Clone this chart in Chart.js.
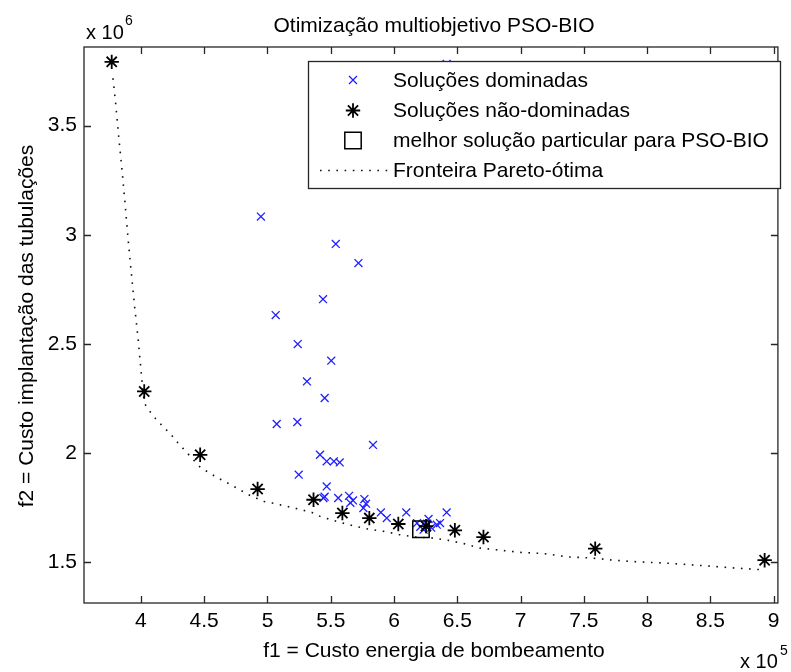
<!DOCTYPE html>
<html>
<head>
<meta charset="utf-8">
<script src="https://cdn.jsdelivr.net/npm/chart.js@4.4.1/dist/chart.umd.min.js"></script>
<style>
  html, body { margin: 0; padding: 0; background: #ffffff; }
  #wrap { width: 791px; height: 672px; }
</style>
</head>
<body>
<div id="wrap"><canvas id="c" width="791" height="672"></canvas></div>
<script>
// f1 = pumping energy cost, f2 = pipe installation cost

// Dominated solutions
const dominatedF1 = [641600, 494800, 554000, 571900, 543900, 506500, 523900, 550400, 531200, 545200,
                     507300, 523600, 583400, 541500, 546800, 552500, 557100, 524700, 546800, 544200,
                     545200, 555900, 564500, 567600, 565500, 576600, 577900, 575800, 589600, 594300,
                     609700, 618200, 620800, 627300, 623400, 629400, 633800, 636400, 641600, 626300];
const dominatedF2 = [3783000, 3083000, 2958000, 2870000, 2705000, 2632000, 2499000, 2423000, 2328000, 2252000,
                     2133000, 2142000, 2037000, 1992000, 1962000, 1962000, 1957000, 1901000, 1847000, 1794000,
                     1800000, 1794000, 1804000, 1783000, 1772000, 1789000, 1768000, 1748000, 1728000, 1702000,
                     1728000, 1679000, 1662000, 1698000, 1649000, 1658000, 1672000, 1679000, 1728000, 1676000];

// Non-dominated solutions
const nonDominatedF1 = [376900, 402600, 446800, 492200, 536400, 559200, 580500, 603400, 625300, 648100, 670700, 759000, 892900];
const nonDominatedF2 = [3792000, 2282000, 1992000, 1835000, 1786000, 1725000, 1702000, 1675000, 1665000, 1646000, 1615000, 1562000, 1509000];

// Best particular solution for PSO-BIO
const bestF1 = [621300];
const bestF2 = [1651000];

// Pareto-optimal front
const paretoF1 = [377900, 380000, 382300, 384900, 387200, 389900, 392400, 395000, 397700, 400000,
                  402600, 406500, 411700, 417900, 424200, 429300, 435500, 447000, 459500, 471900,
                  485000, 497400, 503700, 523400, 535100, 541500, 554600, 567600, 579300, 592200,
                  604400, 616900, 629900, 642900, 655300, 667600, 680600, 699500, 719000, 737700,
                  756700, 775400, 794900, 813900, 832600, 851300, 870200, 889200];
const paretoF2 = [3717000, 3603000, 3457000, 3305000, 3160000, 2977000, 2824000, 2671000, 2527000, 2381000,
                  2229000, 2195000, 2157000, 2119000, 2082000, 2046000, 2007000, 1934000, 1890000, 1852000,
                  1809000, 1778000, 1771000, 1745000, 1728000, 1710000, 1687000, 1667000, 1652000, 1641000,
                  1626000, 1615000, 1611000, 1600000, 1585000, 1565000, 1557000, 1545000, 1539000, 1524000,
                  1519000, 1508000, 1501000, 1496000, 1489000, 1481000, 1473000, 1466000];

// Axis ticks
const xTickValues = [400000, 450000, 500000, 550000, 600000, 650000, 700000, 750000, 800000, 850000, 900000];
const yTickValues = [1500000, 2000000, 2500000, 3000000, 3500000];

const toPoints = (xs, ys) => xs.map((x, i) => ({ x: x, y: ys[i] }));

const FONT = '"Liberation Sans", Arial, Helvetica, sans-serif';
const FRAME = '#262626';
const DOT_DASH = [1.6, 6.6];

const styles = {
  dominated:    { pointStyle: 'crossRot', radius: 5.6, borderWidth: 1.3, color: '#1f1fff' },
  nonDominated: { pointStyle: 'star',     radius: 7.2, borderWidth: 1.8, color: '#000000' },
  best:         { pointStyle: 'rect',     radius: 11.6, borderWidth: 1.5, color: '#000000' }
};

function drawMarker(ctx, st, x, y) {
  ctx.save();
  ctx.strokeStyle = st.color;
  ctx.fillStyle = 'rgba(0,0,0,0)';
  ctx.lineWidth = st.borderWidth;
  if (Chart.helpers && Chart.helpers.drawPoint) {
    Chart.helpers.drawPoint(ctx, { pointStyle: st.pointStyle, radius: st.radius, borderWidth: st.borderWidth, rotation: 0 }, x, y);
  }
  ctx.restore();
}

const framePlugin = {
  id: 'framePlugin',
  afterDraw(chart) {
    const ctx = chart.ctx;
    const a = chart.chartArea;
    const xs = chart.scales.x, ys = chart.scales.y;
    ctx.save();

    // Box and inward ticks on all four sides
    ctx.strokeStyle = FRAME;
    ctx.lineWidth = 1.3;
    ctx.strokeRect(a.left, a.top, a.right - a.left, a.bottom - a.top);
    const tl = 7;
    ctx.beginPath();
    xTickValues.forEach(v => {
      const px = Math.round(xs.getPixelForValue(v)) + 0.5;
      ctx.moveTo(px, a.bottom); ctx.lineTo(px, a.bottom - tl);
      ctx.moveTo(px, a.top);    ctx.lineTo(px, a.top + tl);
    });
    yTickValues.forEach(v => {
      const py = Math.round(ys.getPixelForValue(v)) + 0.5;
      ctx.moveTo(a.left, py);  ctx.lineTo(a.left + tl, py);
      ctx.moveTo(a.right, py); ctx.lineTo(a.right - tl, py);
    });
    ctx.stroke();

    // Titles
    ctx.fillStyle = '#000';
    ctx.font = '21px ' + FONT;
    ctx.textAlign = 'center';
    ctx.textBaseline = 'alphabetic';
    ctx.fillText('Otimização multiobjetivo PSO-BIO', 434, 32);
    ctx.fillText('f1 = Custo energia de bombeamento', 434, 657);
    ctx.save();
    ctx.translate(33, 326);
    ctx.rotate(-Math.PI / 2);
    ctx.fillText('f2 = Custo implantação das tubulações', 0, 0);
    ctx.restore();

    // Axis multipliers
    ctx.textAlign = 'left';
    ctx.font = '20px ' + FONT;
    ctx.fillText('x 10', 86, 39);
    ctx.fillText('x 10', 740, 668);
    ctx.font = '14px ' + FONT;
    ctx.fillText('6', 125, 25);
    ctx.fillText('5', 780, 655);

    // Legend
    const L = { x: 308, y: 61, w: 472, h: 127 };
    ctx.fillStyle = '#fff';
    ctx.fillRect(L.x, L.y, L.w, L.h);
    ctx.strokeStyle = FRAME;
    ctx.lineWidth = 1.3;
    ctx.strokeRect(L.x + 0.5, L.y + 0.5, L.w, L.h);
    const rows = [80, 110.5, 140.5, 170.5];
    const mx = 353, tx = 393;
    drawMarker(ctx, styles.dominated, mx, rows[0]);
    drawMarker(ctx, styles.nonDominated, mx, rows[1]);
    drawMarker(ctx, styles.best, mx, rows[2]);
    ctx.save();
    ctx.strokeStyle = '#111';
    ctx.lineWidth = 1.6;
    ctx.setLineDash(DOT_DASH);
    ctx.beginPath();
    ctx.moveTo(320, rows[3]); ctx.lineTo(389, rows[3]);
    ctx.stroke();
    ctx.restore();
    ctx.fillStyle = '#000';
    ctx.font = '21px ' + FONT;
    ctx.textBaseline = 'middle';
    ctx.fillText('Soluções dominadas', tx, rows[0] + 1);
    ctx.fillText('Soluções não-dominadas', tx, rows[1] + 1);
    ctx.fillText('melhor solução particular para PSO-BIO', tx, rows[2] + 1);
    ctx.fillText('Fronteira Pareto-ótima', tx, rows[3] + 1);

    ctx.restore();
  }
};

const tickFont = { family: FONT, size: 21 };

new Chart(document.getElementById('c'), {
  type: 'scatter',
  data: {
    datasets: [
      {
        label: 'Soluções não-dominadas',
        data: toPoints(nonDominatedF1, nonDominatedF2),
        pointStyle: styles.nonDominated.pointStyle,
        pointRadius: styles.nonDominated.radius,
        pointBorderWidth: styles.nonDominated.borderWidth,
        borderColor: styles.nonDominated.color,
        backgroundColor: styles.nonDominated.color,
        showLine: false
      },
      {
        label: 'melhor solução particular para PSO-BIO',
        data: toPoints(bestF1, bestF2),
        pointStyle: styles.best.pointStyle,
        pointRadius: styles.best.radius,
        pointBorderWidth: styles.best.borderWidth,
        borderColor: styles.best.color,
        backgroundColor: 'rgba(0,0,0,0)',
        showLine: false
      },
      {
        label: 'Soluções dominadas',
        data: toPoints(dominatedF1, dominatedF2),
        pointStyle: styles.dominated.pointStyle,
        pointRadius: styles.dominated.radius,
        pointBorderWidth: styles.dominated.borderWidth,
        borderColor: styles.dominated.color,
        backgroundColor: styles.dominated.color,
        showLine: false
      },
      {
        label: 'Fronteira Pareto-ótima',
        data: toPoints(paretoF1, paretoF2),
        showLine: true,
        pointRadius: 0,
        borderColor: '#111',
        borderWidth: 1.6,
        borderDash: DOT_DASH,
        tension: 0,
        fill: false
      }
    ]
  },
  options: {
    responsive: false,
    animation: false,
    devicePixelRatio: 1,
    layout: { padding: { left: 0, right: 3, top: 47, bottom: 0 } },
    plugins: {
      legend: { display: false },
      title: { display: false },
      tooltip: { enabled: false }
    },
    scales: {
      x: {
        type: 'linear',
        min: 355000,
        max: 903400,
        afterFit(s) { s.height = 69; },
        afterBuildTicks(s) { s.ticks = xTickValues.map(v => ({ value: v })); },
        grid: { display: false, drawTicks: false, tickLength: 0 },
        border: { display: false },
        ticks: {
          font: tickFont, color: '#000', padding: 6, maxRotation: 0, autoSkip: false,
          callback: v => String(Math.round(v / 1e4) / 10)
        }
      },
      y: {
        type: 'linear',
        min: 1313000,
        max: 3860000,
        afterFit(s) { s.width = 84; },
        afterBuildTicks(s) { s.ticks = yTickValues.map(v => ({ value: v })); },
        grid: { display: false, drawTicks: false, tickLength: 0 },
        border: { display: false },
        ticks: {
          font: tickFont, color: '#000', padding: 7, autoSkip: false,
          callback: v => String(Math.round(v / 1e5) / 10)
        }
      }
    }
  },
  plugins: [framePlugin]
});
</script>
</body>
</html>
